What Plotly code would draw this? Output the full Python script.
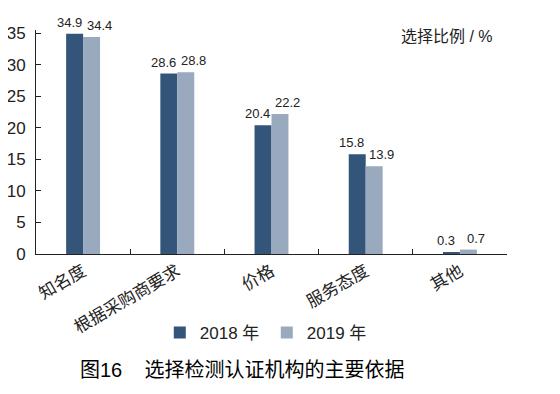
import plotly.graph_objects as go

categories = ["知名度", "根据采购商要求", "价格", "服务态度", "其他"]
v2018 = [34.9, 28.6, 20.4, 15.8, 0.3]
v2019 = [34.4, 28.8, 22.2, 13.9, 0.7]
labels2018 = ["34.9", "28.6", "20.4", "15.8", "0.3"]
labels2019 = ["34.4", "28.8", "22.2", "13.9", "0.7"]
yticks = [0, 5, 10, 15, 20, 25, 30, 35]

FONT = "Liberation Sans, Arial, Noto Sans CJK SC"
C18 = "#34557a"
C19 = "#99aabe"

fig = go.Figure()
fig.add_trace(go.Bar(x=categories, y=v2018, name="2018 年", marker_color=C18, marker_line_width=0))
fig.add_trace(go.Bar(x=categories, y=v2019, name="2019 年", marker_color=C19, marker_line_width=0))

for c, v, t in zip(categories, v2018, labels2018):
    fig.add_annotation(x=c, y=v, text=t, showarrow=False, xref="x", yref="y",
                       yanchor="bottom", xshift=-14, yshift=2,
                       font=dict(family=FONT, size=13, color="#222"))
for c, v, t in zip(categories, v2019, labels2019):
    fig.add_annotation(x=c, y=v, text=t, showarrow=False, xref="x", yref="y",
                       yanchor="bottom", xshift=16, yshift=2,
                       font=dict(family=FONT, size=13, color="#222"))

fig.add_annotation(text="选择比例 / %", xref="paper", yref="paper", x=0.975, y=0.969,
                   xanchor="right", yanchor="middle", showarrow=False,
                   font=dict(family=FONT, size=16, color="#222"))
fig.add_annotation(text="图16    选择检测认证机构的主要依据", xref="paper", yref="paper",
                   x=0.438, y=-0.518, xanchor="center", yanchor="middle", showarrow=False,
                   font=dict(family=FONT, size=20, color="#000"))

# page body has an 8px margin, so the figure is 8px smaller and margins shifted
fig.update_layout(
    width=552, height=386,
    margin=dict(l=28, r=53, t=22, b=140, autoexpand=False),
    paper_bgcolor="white", plot_bgcolor="white",
    barmode="group", bargap=0.64, bargroupgap=0,
    font=dict(family=FONT, size=16, color="#222"),
    showlegend=True,
    legend=dict(orientation="h", x=0.49, y=-0.353, xanchor="center", yanchor="middle",
                font=dict(family=FONT, size=17, color="#222"), itemwidth=30,
                entrywidth=62, entrywidthmode="pixels",
                bgcolor="rgba(0,0,0,0)"),
    xaxis=dict(showline=True, linecolor="#222", linewidth=1, ticks="inside",
               tickson="boundaries", ticklen=5, tickcolor="#222", tickangle=-30,
               tickfont=dict(family=FONT, size=17, color="#222"), showgrid=False,
               zeroline=False, automargin=False),
    yaxis=dict(range=[0, 35.5], tickvals=yticks, showline=True, linecolor="#222",
               linewidth=1, ticks="inside", ticklen=5, tickcolor="#222",
               tickfont=dict(family=FONT, size=17, color="#222"), showgrid=False,
               zeroline=False, ticklabelstandoff=6, automargin=False),
)

fig.write_html("out.html")
